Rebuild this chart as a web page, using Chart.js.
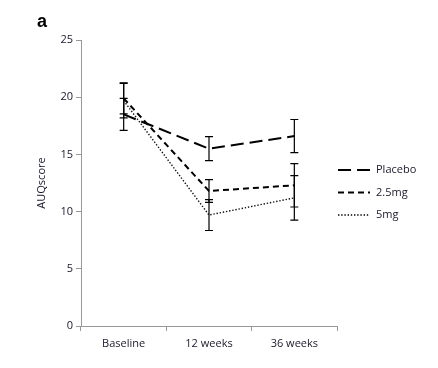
<!DOCTYPE html>
<html>
<head>
<meta charset="utf-8">
<script src="https://cdn.jsdelivr.net/npm/chart.js@4"></script>
<style>
  html, body { margin: 0; padding: 0; background: #fff; }
  #wrap { width: 438px; height: 368px; position: relative; }
</style>
</head>
<body>
<div id="wrap"><canvas id="myChart" width="438" height="368"></canvas></div>
<script>
// Data
const labels = ['Baseline', '12 weeks', '36 weeks'];
const placebo = [18.5, 15.5, 16.6];
const placeboErr = [1.4, 1.05, 1.45];
const mg25 = [19.9, 11.8, 12.3];
const mg25Err = [1.35, 1.0, 1.9];
const mg5 = [19.7, 9.7, 11.2];
const mg5Err = [1.5, 1.35, 1.95];
const yTicks = [0, 5, 10, 15, 20, 25];

const font = "'Open Sans', 'DejaVu Sans', sans-serif";

// error bars drawn from the dataset's err array
const errorBars = {
    id: 'errorBars',
    afterDatasetsDraw(chart) {
        const ctx = chart.ctx;
        const y = chart.scales.y;
        ctx.save();
        ctx.strokeStyle = '#000';
        ctx.lineWidth = 1.2;
        ctx.setLineDash([]);
        chart.data.datasets.forEach((ds, i) => {
            const meta = chart.getDatasetMeta(i);
            meta.data.forEach((pt, j) => {
                const top = y.getPixelForValue(ds.data[j] + ds.err[j]);
                const bot = y.getPixelForValue(ds.data[j] - ds.err[j]);
                ctx.beginPath();
                ctx.moveTo(pt.x, top); ctx.lineTo(pt.x, bot);
                ctx.moveTo(pt.x - 4, top); ctx.lineTo(pt.x + 4, top);
                ctx.moveTo(pt.x - 4, bot); ctx.lineTo(pt.x + 4, bot);
                ctx.stroke();
            });
        });
        ctx.restore();
    }
};

// legend on the right and panel letter
const sideLegend = {
    id: 'sideLegend',
    afterDraw(chart) {
        const ctx = chart.ctx;
        const area = chart.chartArea;
        ctx.save();
        chart.data.datasets.forEach((ds, i) => {
            const yy = 170 + i * 22.5;
            ctx.beginPath();
            ctx.strokeStyle = '#000';
            ctx.lineWidth = ds.borderWidth;
            ctx.setLineDash(ds.borderDash);
            ctx.moveTo(area.right + 1, yy);
            ctx.lineTo(area.right + 33, yy);
            ctx.stroke();
            ctx.setLineDash([]);
            ctx.fillStyle = '#1a1a2a';
            ctx.font = '11px ' + font;
            ctx.textBaseline = 'middle';
            ctx.fillText(ds.label, area.right + 39, yy);
        });
        ctx.fillStyle = '#000';
        ctx.font = 'bold 18px "Liberation Sans", Arial, sans-serif';
        ctx.textBaseline = 'alphabetic';
        ctx.fillText('a', 37, 27);
        ctx.restore();
    }
};

document.addEventListener('DOMContentLoaded', function() {
    const ctx = document.getElementById('myChart').getContext('2d');
    new Chart(ctx, {
        type: 'line',
        data: {
            labels: labels,
            datasets: [
                { label: 'Placebo', data: placebo, err: placeboErr, borderColor: '#000',
                  borderWidth: 2, borderDash: [13, 6] },
                { label: '2.5mg', data: mg25, err: mg25Err, borderColor: '#000',
                  borderWidth: 2, borderDash: [6, 4] },
                { label: '5mg', data: mg5, err: mg5Err, borderColor: '#111',
                  borderWidth: 1.4, borderDash: [1.4, 1.8] }
            ]
        },
        options: {
            responsive: false,
            animation: false,
            events: [],
            elements: { point: { radius: 0 }, line: { tension: 0 } },
            layout: { padding: { left: 35, right: 101, top: 40, bottom: 10 } },
            plugins: { legend: { display: false }, tooltip: { enabled: false } },
            scales: {
                x: {
                    offset: true,
                    afterFit(s) { s.height = 32; },
                    grid: { offset: true, drawOnChartArea: false, color: '#999', tickLength: 5 },
                    border: { color: '#999' },
                    ticks: { color: '#1a1a2a', font: { family: font, size: 11 }, padding: 6 }
                },
                y: {
                    min: 0, max: 25,
                    afterFit(s) { s.width = 46; },
                    afterBuildTicks(s) { s.ticks = yTicks.map(v => ({ value: v })); },
                    grid: { drawOnChartArea: false, color: '#999', tickLength: 5 },
                    border: { color: '#999' },
                    ticks: { color: '#1a1a2a', font: { family: font, size: 11 }, padding: 3 },
                    title: { display: true, text: 'AUQscore', color: '#1a1a2a',
                             font: { family: font, size: 11 }, padding: 0 }
                }
            }
        },
        plugins: [errorBars, sideLegend]
    });
});
</script>
</body>
</html>
